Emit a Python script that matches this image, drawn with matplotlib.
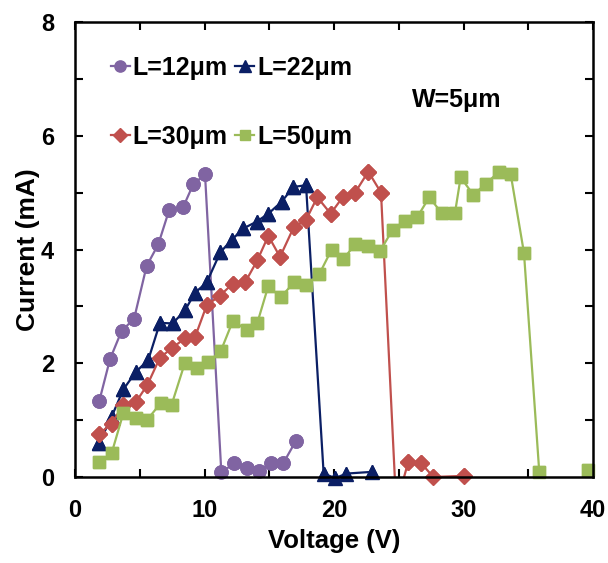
import numpy as np
import matplotlib
matplotlib.use("Agg")
import matplotlib.pyplot as plt
from matplotlib.ticker import MultipleLocator

plt.rcParams['font.family'] = ['Liberation Sans', 'DejaVu Sans']
plt.rcParams['font.weight'] = 'bold'

# ---- data ----
v12 = [1.88, 2.70, 3.60, 4.56, 5.53, 6.43, 7.28, 8.36, 9.14, 10.04, 11.3, 12.28, 13.26, 14.2, 15.1, 16.1, 17.07]
i12 = [1.34, 2.07, 2.57, 2.78, 3.71, 4.09, 4.70, 4.75, 5.15, 5.32, 0.08, 0.24, 0.15, 0.10, 0.24, 0.25, 0.64]

v22 = [1.88, 2.83, 3.73, 4.71, 5.66, 6.56, 7.54, 8.49, 9.27, 10.17, 11.22, 12.1, 13.0, 14.03, 14.93, 15.96,
       16.86, 17.84, 19.2, 20.1, 20.95, 22.9]
i22 = [0.60, 1.06, 1.54, 1.85, 2.06, 2.71, 2.70, 2.93, 3.24, 3.42, 3.95, 4.17, 4.37, 4.49, 4.63, 4.84,
       5.10, 5.13, 0.06, -0.02, 0.06, 0.09]

v30 = [1.88, 2.83, 3.73, 4.71, 5.59, 6.56, 7.46, 8.49, 9.27, 10.17, 11.2, 12.18, 13.13, 14.08, 14.93, 15.83,
       16.91, 17.84, 18.71, 19.74, 20.67, 21.6, 22.65, 23.63, 24.8, 25.74, 26.7, 27.67, 30.04]
i30 = [0.76, 0.94, 1.27, 1.32, 1.62, 2.10, 2.26, 2.44, 2.46, 3.02, 3.19, 3.40, 3.42, 3.81, 4.24, 3.87,
       4.40, 4.52, 4.92, 4.63, 4.92, 4.99, 5.37, 5.00, -0.5, 0.27, 0.25, 0.0, 0.02]

v50 = [1.88, 2.83, 3.73, 4.71, 5.59, 6.62, 7.46, 8.49, 9.40, 10.3, 11.25, 12.2, 13.26, 14.08, 14.93, 15.88,
       16.91, 17.84, 18.87, 19.82, 20.72, 21.62, 22.65, 23.58, 24.53, 25.48, 26.43, 27.36, 28.31, 29.34,
       29.78, 30.76, 31.74, 32.76, 33.64, 34.67, 35.85, 37.8, 39.64]
i50 = [0.27, 0.42, 1.12, 1.03, 1.01, 1.30, 1.27, 2.01, 1.91, 2.03, 2.21, 2.75, 2.58, 2.71, 3.36, 3.16,
       3.42, 3.37, 3.57, 4.00, 3.83, 4.09, 4.06, 3.98, 4.35, 4.50, 4.57, 4.92, 4.64, 4.64,
       5.27, 4.96, 5.16, 5.37, 5.33, 3.94, 0.09, -0.5, 0.13]

labels = ["L=12\u03bcm", "L=22\u03bcm", "L=30\u03bcm", "L=50\u03bcm"]
annotation = "W=5\u03bcm"
xlabel = "Voltage (V)"
ylabel = "Current (mA)"

series = [(v12, i12), (v22, i22), (v30, i30), (v50, i50)]
colors = ["#8064A2", "#0B1F65", "#C0504D", "#9BBB59"]
markers = ["o", "^", "D", "s"]
msizes = [9.5, 9.5, 8.0, 8.5]

fig = plt.figure(figsize=(6.08, 5.63), dpi=100)
ax = fig.add_axes([75/608, 1-477/563, (593-75)/608, (477-22)/563])

handles = []
for k, ((v, i), c, m, ms, lab) in enumerate(zip(series, colors, markers, msizes, labels)):
    v = np.asarray(v); i = np.asarray(i)
    h, = ax.plot(v, i, color=c, lw=1.6, marker=m, ms=ms, mec=c, mfc=c, label=lab, zorder=3 + k, clip_on=True)
    vis = i > -0.15
    ax.plot(v[vis], i[vis], ls='none', marker=m, ms=ms, mec=c, mfc=c, zorder=3 + k, clip_on=False)
    handles.append(h)

ax.set_xlim(0, 40)
ax.set_ylim(0, 8)
ax.xaxis.set_major_locator(MultipleLocator(10))
ax.xaxis.set_minor_locator(MultipleLocator(5))
ax.yaxis.set_major_locator(MultipleLocator(2))
ax.yaxis.set_minor_locator(MultipleLocator(1))
ax.tick_params(which='both', direction='in', top=True, right=True, width=1.5, length=6, color='black')
ax.tick_params(axis='x', which='major', labelsize=17, pad=16)
ax.tick_params(axis='y', which='major', labelsize=17, pad=15)
for s in ax.spines.values():
    s.set_linewidth(1.8)
    s.set_zorder(10)

ax.set_xlabel(xlabel, fontsize=18.5, fontweight='bold', labelpad=5)
ax.set_ylabel(ylabel, fontsize=19, fontweight='bold', labelpad=1)

ax.text(29.5, 6.63, annotation, fontsize=18, fontweight='bold', ha='center', va='center')

leg = ax.legend([handles[0], handles[2], handles[1], handles[3]],
                [labels[0], labels[2], labels[1], labels[3]],
                ncol=2, loc='upper left', bbox_to_anchor=(0.05, 0.947), frameon=False,
                prop={'size': 18, 'weight': 'bold'}, handlelength=0.75, handletextpad=0.12,
                columnspacing=0.3, labelspacing=1.8, markerscale=0.85, borderaxespad=0)

fig.savefig("out.png", dpi=100)
